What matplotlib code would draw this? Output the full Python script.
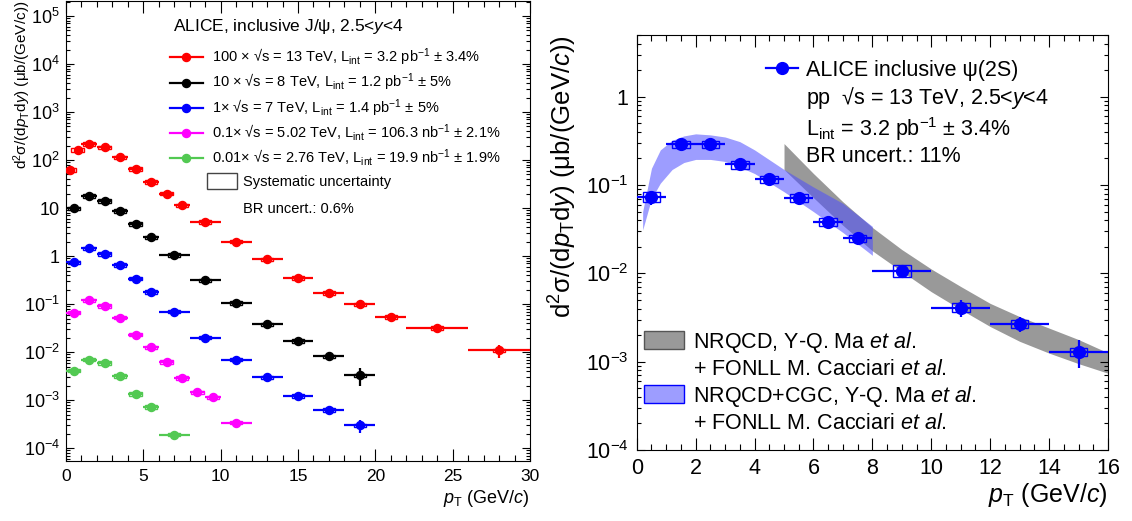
import numpy as np
import matplotlib
matplotlib.use("Agg")
import matplotlib.pyplot as plt
from matplotlib.patches import Rectangle, Patch
from matplotlib.lines import Line2D
from matplotlib.ticker import LogLocator, MultipleLocator, FuncFormatter, NullFormatter

plt.rcParams["font.family"] = ["Liberation Sans", "DejaVu Sans"]
plt.rcParams["mathtext.fontset"] = "custom"
plt.rcParams["mathtext.rm"] = "Liberation Sans"
plt.rcParams["mathtext.it"] = "Liberation Sans:italic"
plt.rcParams["mathtext.bf"] = "Liberation Sans:bold"

# ---- left panel: inclusive J/psi, values as plotted (already scaled) ----
pt_13 = [0.25, 0.75, 1.5, 2.5, 3.5, 4.5, 5.5, 6.5, 7.5, 9, 11, 13, 15, 17, 19, 21, 24, 28]
bw_13 = [0.25, 0.25, 0.5, 0.5, 0.5, 0.5, 0.5, 0.5, 0.5, 1, 1, 1, 1, 1, 1, 1, 2, 2]
xs_13 = [62, 162, 216, 185, 114, 65, 35, 20, 11.5, 5.1, 2.0, 0.85, 0.35, 0.17, 0.098, 0.054, 0.032, 0.011]
st_13 = [0.04, 0.03, 0.02, 0.02, 0.02, 0.02, 0.02, 0.03, 0.03, 0.03, 0.04, 0.05, 0.06, 0.07, 0.08, 0.1, 0.12, 0.3]

pt_8 = [0.5, 1.5, 2.5, 3.5, 4.5, 5.5, 7, 9, 11, 13, 15, 17, 19]
bw_8 = [0.5, 0.5, 0.5, 0.5, 0.5, 0.5, 1, 1, 1, 1, 1, 1, 1]
xs_8 = [9.8, 18, 14, 8.7, 4.7, 2.45, 1.05, 0.31, 0.105, 0.038, 0.017, 0.0081, 0.0033]
st_8 = [0.03, 0.02, 0.02, 0.02, 0.02, 0.03, 0.03, 0.04, 0.05, 0.07, 0.1, 0.15, 0.4]

pt_7 = [0.5, 1.5, 2.5, 3.5, 4.5, 5.5, 7, 9, 11, 13, 15, 17, 19]
bw_7 = [0.5, 0.5, 0.5, 0.5, 0.5, 0.5, 1, 1, 1, 1, 1, 1, 1]
xs_7 = [0.74, 1.45, 1.1, 0.65, 0.34, 0.18, 0.07, 0.020, 0.0070, 0.0030, 0.00123, 0.00062, 0.0003]
st_7 = [0.04, 0.03, 0.03, 0.03, 0.03, 0.04, 0.04, 0.05, 0.07, 0.08, 0.12, 0.15, 0.3]

pt_5 = [0.5, 1.5, 2.5, 3.5, 4.5, 5.5, 6.5, 7.5, 8.5, 9.5, 11]
bw_5 = [0.5, 0.5, 0.5, 0.5, 0.5, 0.5, 0.5, 0.5, 0.5, 0.5, 1]
xs_5 = [0.066, 0.12, 0.091, 0.052, 0.023, 0.0126, 0.0062, 0.0029, 0.00145, 0.00114, 0.00034]
st_5 = [0.03, 0.02, 0.02, 0.02, 0.03, 0.03, 0.04, 0.05, 0.06, 0.07, 0.1]

pt_276 = [0.5, 1.5, 2.5, 3.5, 4.5, 5.5, 7]
bw_276 = [0.5, 0.5, 0.5, 0.5, 0.5, 0.5, 1]
xs_276 = [0.0041, 0.0070, 0.0059, 0.0032, 0.00134, 0.00072, 0.00019]
st_276 = [0.05, 0.04, 0.04, 0.05, 0.06, 0.08, 0.12]

labels_left = [
    "100 × √s = 13 TeV, L$_{\\mathrm{int}}$ = 3.2 pb$^{-1}$ ± 3.4%",
    "10 × √s = 8 TeV, L$_{\\mathrm{int}}$ = 1.2 pb$^{-1}$ ± 5%",
    "1× √s = 7 TeV, L$_{\\mathrm{int}}$ = 1.4 pb$^{-1}$ ± 5%",
    "0.1× √s = 5.02 TeV, L$_{\\mathrm{int}}$ = 106.3 nb$^{-1}$ ± 2.1%",
    "0.01× √s = 2.76 TeV, L$_{\\mathrm{int}}$ = 19.9 nb$^{-1}$ ± 1.9%",
]
colors_left = ["#ff0000", "#000000", "#0000ff", "#ff00ff", "#52c952"]

# ---- right panel: inclusive psi(2S) at 13 TeV ----
pt_psi = [0.5, 1.5, 2.5, 3.5, 4.5, 5.5, 6.5, 7.5, 9, 11, 13, 15]
bw_psi = [0.5, 0.5, 0.5, 0.5, 0.5, 0.5, 0.5, 0.5, 1, 1, 1, 1]
xs_psi = [0.073, 0.29, 0.29, 0.171, 0.116, 0.072, 0.0385, 0.025, 0.0107, 0.0041, 0.0027, 0.0013]
st_psi = [0.18, 0.05, 0.05, 0.05, 0.05, 0.06, 0.07, 0.08, 0.1, 0.22, 0.2, 0.35]
sy_psi = [0.13, 0.1, 0.1, 0.1, 0.1, 0.1, 0.1, 0.1, 0.15, 0.12, 0.1, 0.1]

cgc_pt = [0.2, 0.5, 0.8, 1.2, 1.6, 2.0, 2.5, 3.0, 3.5, 4.0, 5.0, 6.0, 7.0, 8.0]
cgc_hi = [0.05, 0.155, 0.25, 0.32, 0.36, 0.38, 0.37, 0.35, 0.31, 0.25, 0.15, 0.095, 0.062, 0.034]
cgc_lo = [0.031, 0.07, 0.105, 0.15, 0.18, 0.195, 0.195, 0.185, 0.16, 0.135, 0.084, 0.05, 0.029, 0.016]

nrqcd_pt = [5, 6, 7, 8, 9, 10, 11, 12, 13, 14, 15, 16]
nrqcd_hi = [0.295, 0.135, 0.0646, 0.0331, 0.0186, 0.0112, 0.0071, 0.00457, 0.00324, 0.0024, 0.00178, 0.00126]
nrqcd_lo = [0.15, 0.072, 0.035, 0.018, 0.0105, 0.0062, 0.0039, 0.0025, 0.0017, 0.00125, 0.00095, 0.00074]

ylab = "d$^{2}$σ/(d$p_{\\mathrm{T}}$d$y$) (μb/(GeV/c))"


def log_label(v, pos):
    e = int(round(np.log10(v)))
    if e == 0:
        return "1"
    if e == 1:
        return "10"
    return "$10^{%d}$" % e


def root_style(ax, xmaj, xmin, xlen, ylen, size, ypad):
    ax.set_yscale("log")
    ax.xaxis.set_major_locator(MultipleLocator(xmaj))
    ax.xaxis.set_minor_locator(MultipleLocator(xmin))
    ax.yaxis.set_major_locator(LogLocator(base=10, numticks=20))
    ax.yaxis.set_minor_locator(LogLocator(base=10, subs=np.arange(2, 10), numticks=20))
    ax.yaxis.set_major_formatter(FuncFormatter(log_label))
    ax.yaxis.set_minor_formatter(NullFormatter())
    ax.tick_params(which="both", direction="in", top=True, right=True, width=0.8, labelsize=size)
    ax.tick_params(axis="x", which="major", length=xlen, pad=6)
    ax.tick_params(axis="x", which="minor", length=xlen / 2)
    ax.tick_params(axis="y", which="major", length=ylen, pad=ypad)
    ax.tick_params(axis="y", which="minor", length=ylen / 2)
    for s in ax.spines.values():
        s.set_linewidth(0.8)


def draw_series(ax, x, y, bw, stat, syst, color, ms, boxw):
    x = np.array(x, dtype=float)
    y = np.array(y, dtype=float)
    for xi, yi, si in zip(x, y, syst):
        ax.add_patch(Rectangle((xi - boxw, yi * (1 - si)), 2 * boxw, 2 * si * yi,
                               fill=False, edgecolor=color, lw=1.0, zorder=3))
    ax.errorbar(x, y, xerr=bw, yerr=y * np.array(stat), fmt="o", color=color,
                ms=ms, lw=1.6, capsize=0, zorder=4)


fig = plt.figure(figsize=(11.32, 5.21), dpi=100)
ax1 = fig.add_axes([0.0583, 0.1152, 0.4099, 0.8829])
ax2 = fig.add_axes([0.5625, 0.1363, 0.4163, 0.7965])

# left panel
series = [(pt_13, xs_13, bw_13, st_13), (pt_8, xs_8, bw_8, st_8), (pt_7, xs_7, bw_7, st_7),
          (pt_5, xs_5, bw_5, st_5), (pt_276, xs_276, bw_276, st_276)]
for (x, y, bw, st), c in zip(series, colors_left):
    draw_series(ax1, x, y, bw, st, [0.08] * len(x), c, 5.8, 0.4)

ax1.set_xlim(0, 30)
ax1.set_ylim(5.4e-5, 2.05e5)
root_style(ax1, 5, 1, 8.5, 6, 13, 4.5)
ax1.tick_params(axis="x", labelsize=12.5)
ax1.set_ylabel(ylab, fontsize=11, loc="top")
ax1.yaxis.set_label_coords(-0.071, 1.0)
ax1.set_xlabel("$p_{\\mathrm{T}}$ (GeV/$c$)", fontsize=13, loc="right")
ax1.xaxis.set_label_coords(1.0, -0.058)

ax1.text(0.2306, 0.944, "ALICE, inclusive J/ψ, 2.5<$y$<4", transform=ax1.transAxes,
         fontsize=12.5, ha="left", va="center")
handles = [Line2D([], [], color=c, marker="o", ms=5.8, lw=1.6) for c in colors_left]
leg1 = ax1.legend(handles, labels_left, loc="upper left", bbox_to_anchor=(0.224, 0.9),
                  frameon=False, fontsize=10.5, handlelength=2.26, handletextpad=0.6,
                  borderpad=0, borderaxespad=0, labelspacing=0.28)
ax1.add_artist(leg1)
h2 = [Patch(facecolor="none", edgecolor="#444444", lw=1.0), Line2D([], [], ls="none")]
ax1.legend(h2, ["Systematic uncertainty", "BR uncert.: 0.6%"], loc="upper left",
           bbox_to_anchor=(0.304, 0.625), frameon=False, fontsize=10.5,
           handlelength=2.05, handleheight=1.3, handletextpad=0.4,
           borderpad=0, borderaxespad=0, labelspacing=0.75)

# right panel
ax2.fill_between(nrqcd_pt, nrqcd_lo, nrqcd_hi, color="#999999", lw=0, zorder=1)
ax2.fill_between(cgc_pt, cgc_lo, cgc_hi, color=(0.3, 0.3, 1.0), alpha=0.55, lw=0, zorder=2)
draw_series(ax2, pt_psi, xs_psi, bw_psi, st_psi, sy_psi, "#0000ff", 8.5, 0.3)

ax2.set_xlim(0, 16)
ax2.set_ylim(1e-4, 5.0)
root_style(ax2, 2, 0.5, 8.5, 6, 15.5, 6)
ax2.set_ylabel(ylab.replace("GeV/c", "GeV/$c$"), fontsize=18.5, loc="top")
ax2.yaxis.set_label_coords(-0.123, 1.0)
ax2.set_xlabel("$p_{\\mathrm{T}}$ (GeV/$c$)", fontsize=18, loc="right")
ax2.xaxis.set_label_coords(1.0, -0.075)

h3 = [Line2D([], [], color="#0000ff", marker="o", ms=8.5, lw=1.6)] + \
     [Line2D([], [], ls="none")] * 3
leg3 = ax2.legend(h3, ["ALICE inclusive ψ(2S)",
                       "pp  √s = 13 TeV, 2.5<$y$<4",
                       "L$_{\\mathrm{int}}$ = 3.2 pb$^{-1}$ ± 3.4%",
                       "BR uncert.: 11%"],
                  loc="upper left", bbox_to_anchor=(0.274, 0.94), frameon=False,
                  fontsize=15.5, handlelength=1.5, handletextpad=0.35,
                  borderpad=0, borderaxespad=0, labelspacing=0.18)
ax2.add_artist(leg3)
h4 = [Patch(facecolor="#999999", edgecolor="#555555", lw=1.0), Line2D([], [], ls="none"),
      Patch(facecolor=(0.3, 0.3, 1.0, 0.55), edgecolor="#0000ff", lw=1.0), Line2D([], [], ls="none")]
ax2.legend(h4, ["NRQCD, Y-Q. Ma $\\mathit{et\\ al.}$",
                "+ FONLL M. Cacciari $\\mathit{et\\ al.}$",
                "NRQCD+CGC, Y-Q. Ma $\\mathit{et\\ al.}$",
                "+ FONLL M. Cacciari $\\mathit{et\\ al.}$"],
           loc="upper left", bbox_to_anchor=(0.015, 0.29), frameon=False,
           fontsize=15.5, handlelength=1.86, handleheight=0.9, handletextpad=0.42,
           borderpad=0, borderaxespad=0, labelspacing=0.18)

fig.savefig("out.png", dpi=100)
